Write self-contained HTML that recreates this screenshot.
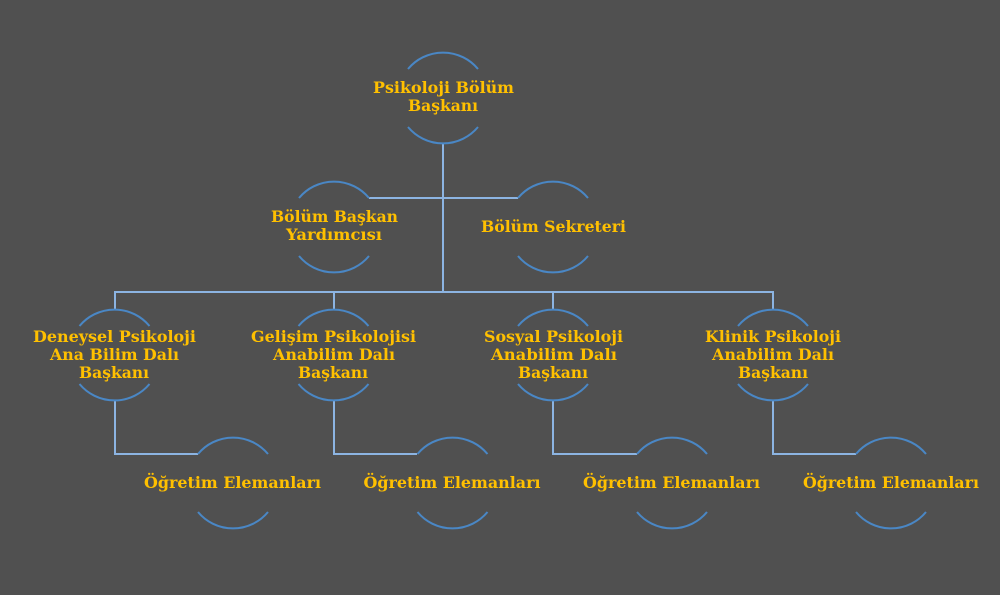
<!DOCTYPE html>
<html><head><meta charset="utf-8"><style>
html,body{margin:0;padding:0;background:#505050;}
svg{display:block;}
text{font-family:"DejaVu Serif","Liberation Serif",serif;font-weight:bold;font-size:16px;fill:#ffc000;text-anchor:middle;}
</style></head><body>
<svg width="1000" height="595" viewBox="0 0 1000 595" xmlns="http://www.w3.org/2000/svg">
<rect width="1000" height="595" fill="#505050"/>
<defs>
<g id="c">
<path d="M-35,-29 A45.5,45.5 0 0 1 35,-29" fill="none" stroke="#4a87c5" stroke-width="2"/>
<path d="M-35,29 A45.5,45.5 0 0 0 35,29" fill="none" stroke="#4a87c5" stroke-width="2"/>
</g>
</defs>
<g fill="none" stroke="#8cb4e2" stroke-width="2">
<path d="M443,144 V292"/>
<path d="M369,198 H518"/>
<path d="M115,310 V292 H773 V310"/>
<path d="M334,292 V310 M553,292 V310"/>
<path d="M115,400 V454 H198"/>
<path d="M334,400 V454 H417"/>
<path d="M553,400 V454 H637"/>
<path d="M773,400 V454 H856"/>
</g>
<use href="#c" x="443" y="98"/>
<use href="#c" x="334" y="227"/>
<use href="#c" x="553" y="227"/>
<use href="#c" x="114.5" y="355"/>
<use href="#c" x="333.5" y="355"/>
<use href="#c" x="553" y="355"/>
<use href="#c" x="773" y="355"/>
<use href="#c" x="233" y="483"/>
<use href="#c" x="452.5" y="483"/>
<use href="#c" x="672" y="483"/>
<use href="#c" x="891" y="483"/>

<text x="443.5" y="93" textLength="141" lengthAdjust="spacingAndGlyphs">Psikoloji Bölüm</text>
<text x="443" y="111" textLength="70" lengthAdjust="spacingAndGlyphs">Başkanı</text>

<text x="334.5" y="222" textLength="127" lengthAdjust="spacingAndGlyphs">Bölüm Başkan</text>
<text x="334" y="240" textLength="96" lengthAdjust="spacingAndGlyphs">Yardımcısı</text>
<text x="553.5" y="232" textLength="145" lengthAdjust="spacingAndGlyphs">Bölüm Sekreteri</text>

<text x="114.5" y="342" textLength="163" lengthAdjust="spacingAndGlyphs">Deneysel Psikoloji</text>
<text x="114.5" y="360" textLength="129" lengthAdjust="spacingAndGlyphs">Ana Bilim Dalı</text>
<text x="114" y="378" textLength="70" lengthAdjust="spacingAndGlyphs">Başkanı</text>

<text x="333.5" y="342" textLength="165" lengthAdjust="spacingAndGlyphs">Gelişim Psikolojisi</text>
<text x="334" y="360" textLength="122" lengthAdjust="spacingAndGlyphs">Anabilim Dalı</text>
<text x="333" y="378" textLength="70" lengthAdjust="spacingAndGlyphs">Başkanı</text>

<text x="553.5" y="342" textLength="139" lengthAdjust="spacingAndGlyphs">Sosyal Psikoloji</text>
<text x="554" y="360" textLength="126" lengthAdjust="spacingAndGlyphs">Anabilim Dalı</text>
<text x="553" y="378" textLength="70" lengthAdjust="spacingAndGlyphs">Başkanı</text>

<text x="773" y="342" textLength="136" lengthAdjust="spacingAndGlyphs">Klinik Psikoloji</text>
<text x="773" y="360" textLength="122" lengthAdjust="spacingAndGlyphs">Anabilim Dalı</text>
<text x="773" y="378" textLength="70" lengthAdjust="spacingAndGlyphs">Başkanı</text>

<text x="232.5" y="488" textLength="177" lengthAdjust="spacingAndGlyphs">Öğretim Elemanları</text>
<text x="452" y="488" textLength="177" lengthAdjust="spacingAndGlyphs">Öğretim Elemanları</text>
<text x="671.5" y="488" textLength="177" lengthAdjust="spacingAndGlyphs">Öğretim Elemanları</text>
<text x="891" y="488" textLength="176" lengthAdjust="spacingAndGlyphs">Öğretim Elemanları</text>
</svg>
</body></html>
